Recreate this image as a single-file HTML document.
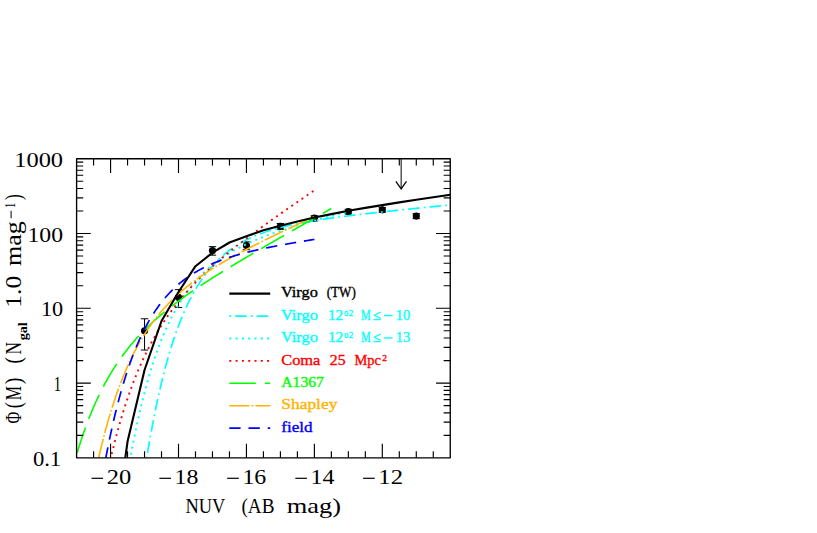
<!DOCTYPE html>
<html><head><meta charset="utf-8"><title>NUV luminosity function</title>
<style>
html,body{margin:0;padding:0;background:#fff;}
body{width:817px;height:533px;overflow:hidden;font-family:"Liberation Serif",serif;}
svg{display:block;}
text{font-family:"Liberation Serif",serif;}
</style></head><body>
<svg width="817" height="533" viewBox="0 0 817 533">
<rect x="0" y="0" width="817" height="533" fill="#fff"/>
<defs><clipPath id="fr"><rect x="76.60" y="158.70" width="373.65" height="299.15"/></clipPath></defs>
<g stroke="#000" stroke-width="1" fill="#000">
<path d="M144.54,318.78V350.04M140.84,318.78H148.24M140.84,350.04H148.24" fill="none"/>
<circle cx="144.54" cy="330.79" r="3.6" stroke="none"/>
<path d="M178.50,289.65V307.45M174.80,289.65H182.20M174.80,307.45H182.20" fill="none"/>
<circle cx="178.50" cy="297.35" r="3.6" stroke="none"/>
<path d="M212.47,246.65V255.16M208.77,246.65H216.17M208.77,255.16H216.17" fill="none"/>
<circle cx="212.47" cy="250.62" r="3.6" stroke="none"/>
<path d="M246.44,241.85V249.71M242.74,241.85H250.14M242.74,249.71H250.14" fill="none"/>
<circle cx="246.44" cy="245.54" r="3.6" stroke="none"/>
<path d="M280.41,223.46V229.28M276.71,223.46H284.11M276.71,229.28H284.11" fill="none"/>
<circle cx="280.41" cy="226.24" r="3.6" stroke="none"/>
<path d="M314.38,215.75V220.90M310.68,215.75H318.08M310.68,220.90H318.08" fill="none"/>
<circle cx="314.38" cy="218.22" r="3.6" stroke="none"/>
<path d="M348.35,209.29V213.93M344.65,209.29H352.05M344.65,213.93H352.05" fill="none"/>
<circle cx="348.35" cy="211.53" r="3.6" stroke="none"/>
<path d="M382.31,207.67V212.20M378.61,207.67H386.01M378.61,212.20H386.01" fill="none"/>
<circle cx="382.31" cy="209.86" r="3.6" stroke="none"/>
<path d="M416.28,213.67V218.65M412.58,213.67H419.98M412.58,218.65H419.98" fill="none"/>
<circle cx="416.28" cy="216.06" r="3.6" stroke="none"/>
</g>
<g clip-path="url(#fr)" fill="none" stroke-linejoin="round">
<path d="M76.60,502.72 L77.28,502.72 L77.96,502.72 L78.64,502.72 L79.32,502.72 L80.00,502.72 L80.68,502.72 L81.36,502.72 L82.03,502.72 L82.71,502.72 L83.39,502.72 L84.07,502.72 L84.75,502.72 L85.43,502.72 L86.11,502.72 L86.79,502.72 L87.47,502.72 L88.15,502.72 L88.83,502.72 L89.51,502.72 L90.19,502.72 L90.87,502.72 L91.55,502.72 L92.23,502.72 L92.90,502.72 L93.58,502.72 L94.26,502.72 L94.94,502.72 L95.62,502.72 L96.30,502.72 L96.98,502.72 L97.66,502.72 L98.34,502.72 L99.02,502.72 L99.70,502.72 L100.38,502.72 L101.06,502.72 L101.74,502.72 L102.42,502.72 L103.10,502.72 L103.77,502.72 L104.45,502.72 L105.13,502.72 L105.81,502.72 L106.49,502.72 L107.17,502.72 L107.85,502.72 L108.53,502.72 L109.21,502.72 L109.89,502.72 L110.57,502.72 L111.25,502.72 L111.93,502.72 L112.61,502.72 L113.29,502.72 L113.96,502.72 L114.64,502.72 L115.32,502.72 L116.00,502.72 L116.68,502.72 L117.36,502.72 L118.04,502.72 L118.72,502.72 L119.40,502.72 L120.08,502.72 L120.76,502.72 L121.44,502.72 L122.12,502.72 L122.80,502.72 L123.48,502.72 L124.16,502.72 L124.83,502.72 L125.51,502.72 L126.19,502.72 L126.87,502.72 L127.55,502.72 L128.23,502.72 L128.91,502.72 L129.59,502.72 L130.27,502.72 L130.95,502.72 L131.63,502.72 L132.31,502.72 L132.99,502.72 L133.67,502.72 L134.35,502.72 L135.03,502.72 L135.70,502.72 L136.38,502.72 L137.06,502.72 L137.74,502.72 L138.42,502.72 L139.10,502.72 L139.78,502.72 L140.46,499.66 L141.14,494.77 L141.82,489.97 L142.50,485.25 L143.18,480.62 L143.86,476.07 L144.54,471.61 L145.22,467.22 L145.90,462.91 L146.57,458.68 L147.25,454.53 L147.93,450.45 L148.61,446.45 L149.29,442.51 L149.97,438.65 L150.65,434.86 L151.33,431.13 L152.01,427.47 L152.69,423.88 L153.37,420.35 L154.05,416.88 L154.73,413.48 L155.41,410.14 L156.09,406.85 L156.76,403.63 L157.44,400.46 L158.12,397.35 L158.80,394.30 L159.48,391.30 L160.16,388.35 L160.84,385.46 L161.52,382.62 L162.20,379.82 L162.88,377.08 L163.56,374.39 L164.24,371.74 L164.92,369.15 L165.60,366.59 L166.28,364.09 L166.96,361.62 L167.63,359.21 L168.31,356.83 L168.99,354.50 L169.67,352.21 L170.35,349.95 L171.03,347.74 L171.71,345.57 L172.39,343.44 L173.07,341.34 L173.75,339.28 L174.43,337.26 L175.11,335.27 L175.79,333.32 L176.47,331.40 L177.15,329.52 L177.83,327.67 L178.50,325.85 L179.18,324.06 L179.86,322.31 L180.54,320.58 L181.22,318.89 L181.90,317.23 L182.58,315.59 L183.26,313.98 L183.94,312.41 L184.62,310.86 L185.30,309.33 L185.98,307.83 L186.66,306.36 L187.34,304.92 L188.02,303.50 L188.69,302.10 L189.37,300.73 L190.05,299.38 L190.73,298.06 L191.41,296.76 L192.09,295.48 L192.77,294.22 L193.45,292.99 L194.13,291.78 L194.81,290.58 L195.49,289.41 L196.17,288.26 L196.85,287.13 L197.53,286.02 L198.21,284.92 L198.89,283.85 L199.56,282.79 L200.24,281.75 L200.92,280.73 L201.60,279.73 L202.28,278.74 L202.96,277.77 L203.64,276.82 L204.32,275.88 L205.00,274.96 L205.68,274.06 L206.36,273.17 L207.04,272.29 L207.72,271.43 L208.40,270.59 L209.08,269.76 L209.76,268.94 L210.43,268.14 L211.11,267.35 L211.79,266.57 L212.47,265.80 L213.15,265.05 L213.83,264.31 L214.51,263.59 L215.19,262.87 L215.87,262.17 L216.55,261.48 L217.23,260.80 L217.91,260.13 L218.59,259.47 L219.27,258.83 L219.95,258.19 L220.63,257.56 L221.30,256.95 L221.98,256.34 L222.66,255.75 L223.34,255.16 L224.02,254.58 L224.70,254.02 L225.38,253.46 L226.06,252.91 L226.74,252.37 L227.42,251.84 L228.10,251.31 L228.78,250.80 L229.46,250.29 L230.14,249.79 L230.82,249.30 L231.49,248.82 L232.17,248.34 L232.85,247.87 L233.53,247.41 L234.21,246.96 L234.89,246.51 L235.57,246.07 L236.25,245.64 L236.93,245.21 L237.61,244.79 L238.29,244.38 L238.97,243.97 L239.65,243.57 L240.33,243.18 L241.01,242.79 L241.69,242.41 L242.36,242.03 L243.04,241.66 L243.72,241.29 L244.40,240.93 L245.08,240.58 L245.76,240.23 L246.44,239.88 L247.12,239.54 L247.80,239.21 L248.48,238.88 L249.16,238.56 L249.84,238.24 L250.52,237.92 L251.20,237.61 L251.88,237.30 L252.56,237.00 L253.23,236.70 L253.91,236.41 L254.59,236.12 L255.27,235.83 L255.95,235.55 L256.63,235.27 L257.31,235.00 L257.99,234.73 L258.67,234.46 L259.35,234.20 L260.03,233.94 L260.71,233.69 L261.39,233.44 L262.07,233.19 L262.75,232.94 L263.42,232.70 L264.10,232.46 L264.78,232.22 L265.46,231.99 L266.14,231.76 L266.82,231.54 L267.50,231.31 L268.18,231.09 L268.86,230.87 L269.54,230.66 L270.22,230.44 L270.90,230.23 L271.58,230.03 L272.26,229.82 L272.94,229.62 L273.62,229.42 L274.29,229.22 L274.97,229.03 L275.65,228.83 L276.33,228.64 L277.01,228.46 L277.69,228.27 L278.37,228.09 L279.05,227.90 L279.73,227.73 L280.41,227.55 L281.09,227.37 L281.77,227.20 L282.45,227.03 L283.13,226.86 L283.81,226.69 L284.49,226.52 L285.16,226.36 L285.84,226.20 L286.52,226.04 L287.20,225.88 L287.88,225.72 L288.56,225.57 L289.24,225.41 L289.92,225.26 L290.60,225.11 L291.28,224.96 L291.96,224.81 L292.64,224.66 L293.32,224.52 L294.00,224.38 L294.68,224.23 L295.36,224.09 L296.03,223.95 L296.71,223.82 L297.39,223.68 L298.07,223.54 L298.75,223.41 L299.43,223.28 L300.11,223.14 L300.79,223.01 L301.47,222.88 L302.15,222.76 L302.83,222.63 L303.51,222.50 L304.19,222.38 L304.87,222.25 L305.55,222.13 L306.22,222.01 L306.90,221.89 L307.58,221.77 L308.26,221.65 L308.94,221.53 L309.62,221.41 L310.30,221.30 L310.98,221.18 L311.66,221.07 L312.34,220.96 L313.02,220.84 L313.70,220.73 L314.38,220.62 L315.06,220.51 L315.74,220.40 L316.42,220.29 L317.09,220.18 L317.77,220.08 L318.45,219.97 L319.13,219.86 L319.81,219.76 L320.49,219.66 L321.17,219.55 L321.85,219.45 L322.53,219.35 L323.21,219.25 L323.89,219.14 L324.57,219.04 L325.25,218.94 L325.93,218.84 L326.61,218.75 L327.29,218.65 L327.96,218.55 L328.64,218.45 L329.32,218.36 L330.00,218.26 L330.68,218.17 L331.36,218.07 L332.04,217.98 L332.72,217.88 L333.40,217.79 L334.08,217.70 L334.76,217.61 L335.44,217.51 L336.12,217.42 L336.80,217.33 L337.48,217.24 L338.15,217.15 L338.83,217.06 L339.51,216.97 L340.19,216.88 L340.87,216.79 L341.55,216.71 L342.23,216.62 L342.91,216.53 L343.59,216.44 L344.27,216.36 L344.95,216.27 L345.63,216.19 L346.31,216.10 L346.99,216.02 L347.67,215.93 L348.35,215.85 L349.02,215.76 L349.70,215.68 L350.38,215.59 L351.06,215.51 L351.74,215.43 L352.42,215.35 L353.10,215.26 L353.78,215.18 L354.46,215.10 L355.14,215.02 L355.82,214.94 L356.50,214.85 L357.18,214.77 L357.86,214.69 L358.54,214.61 L359.22,214.53 L359.89,214.45 L360.57,214.37 L361.25,214.29 L361.93,214.22 L362.61,214.14 L363.29,214.06 L363.97,213.98 L364.65,213.90 L365.33,213.82 L366.01,213.75 L366.69,213.67 L367.37,213.59 L368.05,213.51 L368.73,213.44 L369.41,213.36 L370.09,213.28 L370.76,213.21 L371.44,213.13 L372.12,213.05 L372.80,212.98 L373.48,212.90 L374.16,212.83 L374.84,212.75 L375.52,212.67 L376.20,212.60 L376.88,212.52 L377.56,212.45 L378.24,212.37 L378.92,212.30 L379.60,212.23 L380.28,212.15 L380.95,212.08 L381.63,212.00 L382.31,211.93 L382.99,211.85 L383.67,211.78 L384.35,211.71 L385.03,211.63 L385.71,211.56 L386.39,211.49 L387.07,211.41 L387.75,211.34 L388.43,211.27 L389.11,211.20 L389.79,211.12 L390.47,211.05 L391.15,210.98 L391.82,210.90 L392.50,210.83 L393.18,210.76 L393.86,210.69 L394.54,210.62 L395.22,210.54 L395.90,210.47 L396.58,210.40 L397.26,210.33 L397.94,210.26 L398.62,210.19 L399.30,210.11 L399.98,210.04 L400.66,209.97 L401.34,209.90 L402.02,209.83 L402.69,209.76 L403.37,209.69 L404.05,209.62 L404.73,209.55 L405.41,209.48 L406.09,209.40 L406.77,209.33 L407.45,209.26 L408.13,209.19 L408.81,209.12 L409.49,209.05 L410.17,208.98 L410.85,208.91 L411.53,208.84 L412.21,208.77 L412.88,208.70 L413.56,208.63 L414.24,208.56 L414.92,208.49 L415.60,208.42 L416.28,208.35 L416.96,208.28 L417.64,208.21 L418.32,208.14 L419.00,208.07 L419.68,208.00 L420.36,207.93 L421.04,207.86 L421.72,207.80 L422.40,207.73 L423.08,207.66 L423.75,207.59 L424.43,207.52 L425.11,207.45 L425.79,207.38 L426.47,207.31 L427.15,207.24 L427.83,207.17 L428.51,207.10 L429.19,207.03 L429.87,206.97 L430.55,206.90 L431.23,206.83 L431.91,206.76 L432.59,206.69 L433.27,206.62 L433.95,206.55 L434.62,206.48 L435.30,206.42 L435.98,206.35 L436.66,206.28 L437.34,206.21 L438.02,206.14 L438.70,206.07 L439.38,206.00 L440.06,205.94 L440.74,205.87 L441.42,205.80 L442.10,205.73 L442.78,205.66 L443.46,205.59 L444.14,205.53 L444.82,205.46 L445.49,205.39 L446.17,205.32 L446.85,205.25 L447.53,205.18 L448.21,205.12 L448.89,205.05 L449.57,204.98 L450.25,204.91" stroke="#00ffff" stroke-width="1.7" stroke-dasharray="1.8 4.0 11.7 4.0" stroke-dashoffset="21.09"/>
<path d="M76.60,502.72 L77.28,502.72 L77.96,502.72 L78.64,502.72 L79.32,502.72 L80.00,502.72 L80.68,502.72 L81.36,502.72 L82.03,502.72 L82.71,502.72 L83.39,502.72 L84.07,502.72 L84.75,502.72 L85.43,502.72 L86.11,502.72 L86.79,502.72 L87.47,502.72 L88.15,502.72 L88.83,502.72 L89.51,502.72 L90.19,502.72 L90.87,502.72 L91.55,502.72 L92.23,502.72 L92.90,502.72 L93.58,502.72 L94.26,502.72 L94.94,502.72 L95.62,502.72 L96.30,502.72 L96.98,502.72 L97.66,502.72 L98.34,502.72 L99.02,502.72 L99.70,502.72 L100.38,502.72 L101.06,502.72 L101.74,502.72 L102.42,502.72 L103.10,502.72 L103.77,502.72 L104.45,502.72 L105.13,502.72 L105.81,502.72 L106.49,502.72 L107.17,502.72 L107.85,502.72 L108.53,502.72 L109.21,502.72 L109.89,502.72 L110.57,502.72 L111.25,502.72 L111.93,502.72 L112.61,502.72 L113.29,502.72 L113.96,502.72 L114.64,502.72 L115.32,502.72 L116.00,502.72 L116.68,502.72 L117.36,502.72 L118.04,502.72 L118.72,502.72 L119.40,502.72 L120.08,502.72 L120.76,502.72 L121.44,502.72 L122.12,502.72 L122.80,502.72 L123.48,499.17 L124.16,494.74 L124.83,490.39 L125.51,486.11 L126.19,481.92 L126.87,477.79 L127.55,473.74 L128.23,469.76 L128.91,465.84 L129.59,462.00 L130.27,458.23 L130.95,454.51 L131.63,450.87 L132.31,447.29 L132.99,443.77 L133.67,440.31 L134.35,436.91 L135.03,433.57 L135.70,430.29 L136.38,427.06 L137.06,423.90 L137.74,420.78 L138.42,417.72 L139.10,414.71 L139.78,411.76 L140.46,408.86 L141.14,406.00 L141.82,403.20 L142.50,400.44 L143.18,397.73 L143.86,395.07 L144.54,392.45 L145.22,389.87 L145.90,387.35 L146.57,384.86 L147.25,382.42 L147.93,380.01 L148.61,377.65 L149.29,375.33 L149.97,373.05 L150.65,370.81 L151.33,368.60 L152.01,366.44 L152.69,364.30 L153.37,362.21 L154.05,360.15 L154.73,358.12 L155.41,356.13 L156.09,354.17 L156.76,352.25 L157.44,350.36 L158.12,348.49 L158.80,346.66 L159.48,344.86 L160.16,343.09 L160.84,341.35 L161.52,339.64 L162.20,337.95 L162.88,336.30 L163.56,334.67 L164.24,333.07 L164.92,331.49 L165.60,329.94 L166.28,328.42 L166.96,326.91 L167.63,325.44 L168.31,323.99 L168.99,322.56 L169.67,321.15 L170.35,319.77 L171.03,318.41 L171.71,317.07 L172.39,315.75 L173.07,314.46 L173.75,313.18 L174.43,311.93 L175.11,310.69 L175.79,309.48 L176.47,308.28 L177.15,307.10 L177.83,305.94 L178.50,304.80 L179.18,303.68 L179.86,302.57 L180.54,301.48 L181.22,300.41 L181.90,299.36 L182.58,298.32 L183.26,297.29 L183.94,296.29 L184.62,295.29 L185.30,294.32 L185.98,293.36 L186.66,292.41 L187.34,291.48 L188.02,290.56 L188.69,289.65 L189.37,288.76 L190.05,287.88 L190.73,287.01 L191.41,286.16 L192.09,285.32 L192.77,284.49 L193.45,283.68 L194.13,282.87 L194.81,282.08 L195.49,281.30 L196.17,280.53 L196.85,279.77 L197.53,279.03 L198.21,278.29 L198.89,277.56 L199.56,276.85 L200.24,276.14 L200.92,275.44 L201.60,274.76 L202.28,274.08 L202.96,273.41 L203.64,272.75 L204.32,272.10 L205.00,271.46 L205.68,270.83 L206.36,270.21 L207.04,269.59 L207.72,268.99 L208.40,268.39 L209.08,267.80 L209.76,267.21 L210.43,266.64 L211.11,266.07 L211.79,265.51 L212.47,264.96 L213.15,264.41 L213.83,263.87 L214.51,263.34 L215.19,262.81 L215.87,262.29 L216.55,261.78 L217.23,261.27 L217.91,260.77 L218.59,260.28 L219.27,259.79 L219.95,259.31 L220.63,258.83 L221.30,258.36 L221.98,257.90 L222.66,257.44 L223.34,256.99 L224.02,256.54 L224.70,256.09 L225.38,255.65 L226.06,255.22 L226.74,254.79 L227.42,254.37 L228.10,253.95 L228.78,253.53 L229.46,253.13 L230.14,252.72 L230.82,252.32 L231.49,251.92 L232.17,251.53 L232.85,251.14 L233.53,250.76 L234.21,250.38 L234.89,250.00 L235.57,249.63 L236.25,249.26 L236.93,248.90 L237.61,248.53 L238.29,248.18 L238.97,247.82 L239.65,247.47 L240.33,247.12 L241.01,246.78 L241.69,246.44 L242.36,246.10 L243.04,245.77 L243.72,245.44 L244.40,245.11 L245.08,244.78 L245.76,244.46 L246.44,244.14 L247.12,243.83 L247.80,243.51 L248.48,243.20 L249.16,242.89 L249.84,242.59 L250.52,242.28 L251.20,241.98 L251.88,241.69 L252.56,241.39 L253.23,241.10 L253.91,240.81 L254.59,240.52 L255.27,240.23 L255.95,239.95 L256.63,239.66 L257.31,239.38 L257.99,239.11 L258.67,238.83 L259.35,238.56 L260.03,238.29 L260.71,238.02 L261.39,237.75 L262.07,237.48 L262.75,237.22 L263.42,236.96 L264.10,236.70 L264.78,236.44 L265.46,236.18 L266.14,235.93 L266.82,235.67 L267.50,235.42 L268.18,235.17 L268.86,234.92 L269.54,234.67 L270.22,234.43 L270.90,234.18 L271.58,233.94 L272.26,233.70 L272.94,233.46 L273.62,233.22 L274.29,232.98 L274.97,232.75 L275.65,232.51 L276.33,232.28 L277.01,232.05 L277.69,231.82 L278.37,231.59 L279.05,231.36 L279.73,231.13 L280.41,230.90 L281.09,230.68 L281.77,230.46 L282.45,230.23 L283.13,230.01 L283.81,229.79 L284.49,229.57 L285.16,229.35 L285.84,229.13 L286.52,228.92 L287.20,228.70 L287.88,228.49 L288.56,228.27 L289.24,228.06 L289.92,227.85 L290.60,227.64 L291.28,227.43 L291.96,227.22 L292.64,227.01 L293.32,226.80 L294.00,226.59 L294.68,226.39 L295.36,226.18 L296.03,225.98 L296.71,225.77 L297.39,225.57 L298.07,225.37 L298.75,225.16 L299.43,224.96 L300.11,224.76 L300.79,224.56 L301.47,224.36 L302.15,224.16 L302.83,223.97 L303.51,223.77 L304.19,223.57 L304.87,223.37 L305.55,223.18 L306.22,222.98 L306.90,222.79 L307.58,222.60 L308.26,222.40 L308.94,222.21 L309.62,222.02 L310.30,221.82 L310.98,221.63 L311.66,221.44 L312.34,221.25 L313.02,221.06 L313.70,220.87 L314.38,220.68 L315.06,220.49 L315.74,220.31 L316.42,220.12 L317.09,219.93 L317.77,219.74 L318.45,219.56 L319.13,219.37 L319.81,219.19 L320.49,219.00 L321.17,218.82 L321.85,218.63 L322.53,218.45 L323.21,218.26 L323.89,218.08 L324.57,217.90 L325.25,217.71 L325.93,217.53 L326.61,217.35 L327.29,217.17 L327.96,216.99 L328.64,216.80 L329.32,216.62 L330.00,216.44 L330.68,216.26 L331.36,216.08 L332.04,215.90 L332.72,215.72 L333.40,215.54 L334.08,215.37 L334.76,215.19 L335.44,215.01 L336.12,214.83 L336.80,214.65 L337.48,214.47 L338.15,214.30 L338.83,214.12 L339.51,213.94 L340.19,213.77 L340.87,213.59 L341.55,213.41 L342.23,213.24 L342.91,213.06 L343.59,212.89 L344.27,212.71 L344.95,212.54 L345.63,212.36 L346.31,212.19 L346.99,212.01 L347.67,211.84 L348.35,211.66" stroke="#00ffff" stroke-width="1.9" stroke-dasharray="2.0 4.2" stroke-dashoffset="4.34"/>
<path d="M76.60,502.72 L77.28,502.72 L77.96,502.72 L78.64,502.72 L79.32,502.72 L80.00,502.72 L80.68,502.72 L81.36,502.72 L82.03,502.72 L82.71,502.72 L83.39,502.72 L84.07,502.72 L84.75,502.72 L85.43,502.72 L86.11,502.72 L86.79,502.72 L87.47,502.72 L88.15,502.72 L88.83,502.72 L89.51,502.72 L90.19,502.72 L90.87,502.72 L91.55,502.72 L92.23,502.72 L92.90,502.72 L93.58,502.72 L94.26,502.72 L94.94,502.72 L95.62,502.72 L96.30,502.72 L96.98,502.72 L97.66,502.72 L98.34,502.72 L99.02,502.72 L99.70,502.72 L100.38,502.72 L101.06,502.72 L101.74,500.81 L102.42,497.28 L103.10,493.80 L103.77,490.37 L104.45,487.00 L105.13,483.68 L105.81,480.42 L106.49,477.20 L107.17,474.04 L107.85,470.92 L108.53,467.86 L109.21,464.84 L109.89,461.87 L110.57,458.94 L111.25,456.06 L111.93,453.23 L112.61,450.44 L113.29,447.69 L113.96,444.98 L114.64,442.31 L115.32,439.68 L116.00,437.10 L116.68,434.55 L117.36,432.04 L118.04,429.57 L118.72,427.13 L119.40,424.73 L120.08,422.37 L120.76,420.04 L121.44,417.75 L122.12,415.49 L122.80,413.26 L123.48,411.06 L124.16,408.90 L124.83,406.77 L125.51,404.66 L126.19,402.59 L126.87,400.55 L127.55,398.54 L128.23,396.55 L128.91,394.59 L129.59,392.66 L130.27,390.76 L130.95,388.89 L131.63,387.04 L132.31,385.21 L132.99,383.41 L133.67,381.64 L134.35,379.88 L135.03,378.16 L135.70,376.45 L136.38,374.77 L137.06,373.11 L137.74,371.48 L138.42,369.86 L139.10,368.27 L139.78,366.69 L140.46,365.14 L141.14,363.61 L141.82,362.09 L142.50,360.60 L143.18,359.12 L143.86,357.67 L144.54,356.23 L145.22,354.81 L145.90,353.41 L146.57,352.02 L147.25,350.66 L147.93,349.30 L148.61,347.97 L149.29,346.65 L149.97,345.35 L150.65,344.06 L151.33,342.79 L152.01,341.53 L152.69,340.29 L153.37,339.06 L154.05,337.84 L154.73,336.64 L155.41,335.46 L156.09,334.28 L156.76,333.12 L157.44,331.98 L158.12,330.84 L158.80,329.72 L159.48,328.61 L160.16,327.51 L160.84,326.42 L161.52,325.35 L162.20,324.29 L162.88,323.23 L163.56,322.19 L164.24,321.16 L164.92,320.14 L165.60,319.13 L166.28,318.13 L166.96,317.14 L167.63,316.16 L168.31,315.19 L168.99,314.23 L169.67,313.28 L170.35,312.33 L171.03,311.40 L171.71,310.48 L172.39,309.56 L173.07,308.65 L173.75,307.75 L174.43,306.86 L175.11,305.98 L175.79,305.10 L176.47,304.23 L177.15,303.37 L177.83,302.52 L178.50,301.67 L179.18,300.83 L179.86,300.00 L180.54,299.18 L181.22,298.36 L181.90,297.55 L182.58,296.74 L183.26,295.95 L183.94,295.15 L184.62,294.37 L185.30,293.59 L185.98,292.81 L186.66,292.05 L187.34,291.28 L188.02,290.53 L188.69,289.78 L189.37,289.03 L190.05,288.29 L190.73,287.55 L191.41,286.82 L192.09,286.10 L192.77,285.38 L193.45,284.66 L194.13,283.95 L194.81,283.25 L195.49,282.55 L196.17,281.85 L196.85,281.16 L197.53,280.47 L198.21,279.79 L198.89,279.11 L199.56,278.43 L200.24,277.76 L200.92,277.09 L201.60,276.43 L202.28,275.77 L202.96,275.11 L203.64,274.46 L204.32,273.81 L205.00,273.17 L205.68,272.53 L206.36,271.89 L207.04,271.25 L207.72,270.62 L208.40,269.99 L209.08,269.37 L209.76,268.75 L210.43,268.13 L211.11,267.51 L211.79,266.90 L212.47,266.29 L213.15,265.68 L213.83,265.08 L214.51,264.47 L215.19,263.88 L215.87,263.28 L216.55,262.69 L217.23,262.09 L217.91,261.51 L218.59,260.92 L219.27,260.34 L219.95,259.75 L220.63,259.18 L221.30,258.60 L221.98,258.02 L222.66,257.45 L223.34,256.88 L224.02,256.31 L224.70,255.75 L225.38,255.18 L226.06,254.62 L226.74,254.06 L227.42,253.50 L228.10,252.95 L228.78,252.39 L229.46,251.84 L230.14,251.29 L230.82,250.74 L231.49,250.19 L232.17,249.65 L232.85,249.10 L233.53,248.56 L234.21,248.02 L234.89,247.48 L235.57,246.94 L236.25,246.41 L236.93,245.87 L237.61,245.34 L238.29,244.81 L238.97,244.28 L239.65,243.75 L240.33,243.22 L241.01,242.70 L241.69,242.17 L242.36,241.65 L243.04,241.13 L243.72,240.61 L244.40,240.09 L245.08,239.57 L245.76,239.05 L246.44,238.53 L247.12,238.02 L247.80,237.51 L248.48,236.99 L249.16,236.48 L249.84,235.97 L250.52,235.46 L251.20,234.95 L251.88,234.44 L252.56,233.94 L253.23,233.43 L253.91,232.93 L254.59,232.42 L255.27,231.92 L255.95,231.42 L256.63,230.92 L257.31,230.42 L257.99,229.92 L258.67,229.42 L259.35,228.92 L260.03,228.42 L260.71,227.93 L261.39,227.43 L262.07,226.94 L262.75,226.44 L263.42,225.95 L264.10,225.46 L264.78,224.96 L265.46,224.47 L266.14,223.98 L266.82,223.49 L267.50,223.00 L268.18,222.52 L268.86,222.03 L269.54,221.54 L270.22,221.05 L270.90,220.57 L271.58,220.08 L272.26,219.60 L272.94,219.11 L273.62,218.63 L274.29,218.15 L274.97,217.66 L275.65,217.18 L276.33,216.70 L277.01,216.22 L277.69,215.74 L278.37,215.26 L279.05,214.78 L279.73,214.30 L280.41,213.82 L281.09,213.34 L281.77,212.86 L282.45,212.39 L283.13,211.91 L283.81,211.43 L284.49,210.96 L285.16,210.48 L285.84,210.00 L286.52,209.53 L287.20,209.05 L287.88,208.58 L288.56,208.11 L289.24,207.63 L289.92,207.16 L290.60,206.69 L291.28,206.21 L291.96,205.74 L292.64,205.27 L293.32,204.80 L294.00,204.33 L294.68,203.86 L295.36,203.39 L296.03,202.92 L296.71,202.45 L297.39,201.98 L298.07,201.51 L298.75,201.04 L299.43,200.57 L300.11,200.10 L300.79,199.63 L301.47,199.16 L302.15,198.70 L302.83,198.23 L303.51,197.76 L304.19,197.29 L304.87,196.83 L305.55,196.36 L306.22,195.89 L306.90,195.43 L307.58,194.96 L308.26,194.50 L308.94,194.03 L309.62,193.56 L310.30,193.10 L310.98,192.63 L311.66,192.17 L312.34,191.71 L313.02,191.24 L313.70,190.78 L314.38,190.31" stroke="#ff0000" stroke-width="1.9" stroke-dasharray="2.0 4.2" stroke-dashoffset="0.14"/>
<path d="M76.60,454.60 L77.28,452.35 L77.96,450.12 L78.64,447.94 L79.32,445.78 L80.00,443.66 L80.68,441.57 L81.36,439.51 L82.03,437.48 L82.71,435.48 L83.39,433.51 L84.07,431.57 L84.75,429.66 L85.43,427.77 L86.11,425.91 L86.79,424.08 L87.47,422.28 L88.15,420.50 L88.83,418.75 L89.51,417.02 L90.19,415.32 L90.87,413.64 L91.55,411.99 L92.23,410.35 L92.90,408.75 L93.58,407.16 L94.26,405.59 L94.94,404.05 L95.62,402.53 L96.30,401.03 L96.98,399.55 L97.66,398.09 L98.34,396.65 L99.02,395.22 L99.70,393.82 L100.38,392.44 L101.06,391.07 L101.74,389.72 L102.42,388.39 L103.10,387.08 L103.77,385.78 L104.45,384.50 L105.13,383.24 L105.81,382.00 L106.49,380.76 L107.17,379.55 L107.85,378.35 L108.53,377.16 L109.21,375.99 L109.89,374.83 L110.57,373.69 L111.25,372.56 L111.93,371.45 L112.61,370.35 L113.29,369.26 L113.96,368.18 L114.64,367.12 L115.32,366.07 L116.00,365.03 L116.68,364.01 L117.36,362.99 L118.04,361.99 L118.72,361.00 L119.40,360.01 L120.08,359.05 L120.76,358.09 L121.44,357.14 L122.12,356.20 L122.80,355.27 L123.48,354.35 L124.16,353.44 L124.83,352.55 L125.51,351.66 L126.19,350.78 L126.87,349.91 L127.55,349.04 L128.23,348.19 L128.91,347.35 L129.59,346.51 L130.27,345.68 L130.95,344.86 L131.63,344.05 L132.31,343.24 L132.99,342.45 L133.67,341.66 L134.35,340.88 L135.03,340.10 L135.70,339.34 L136.38,338.58 L137.06,337.82 L137.74,337.08 L138.42,336.34 L139.10,335.60 L139.78,334.88 L140.46,334.16 L141.14,333.44 L141.82,332.73 L142.50,332.03 L143.18,331.33 L143.86,330.64 L144.54,329.96 L145.22,329.28 L145.90,328.60 L146.57,327.94 L147.25,327.27 L147.93,326.61 L148.61,325.96 L149.29,325.31 L149.97,324.67 L150.65,324.03 L151.33,323.39 L152.01,322.76 L152.69,322.14 L153.37,321.52 L154.05,320.90 L154.73,320.29 L155.41,319.68 L156.09,319.08 L156.76,318.48 L157.44,317.88 L158.12,317.29 L158.80,316.70 L159.48,316.12 L160.16,315.53 L160.84,314.96 L161.52,314.38 L162.20,313.81 L162.88,313.25 L163.56,312.68 L164.24,312.12 L164.92,311.57 L165.60,311.01 L166.28,310.46 L166.96,309.91 L167.63,309.37 L168.31,308.83 L168.99,308.29 L169.67,307.75 L170.35,307.22 L171.03,306.69 L171.71,306.16 L172.39,305.64 L173.07,305.12 L173.75,304.60 L174.43,304.08 L175.11,303.56 L175.79,303.05 L176.47,302.54 L177.15,302.03 L177.83,301.53 L178.50,301.02 L179.18,300.52 L179.86,300.02 L180.54,299.53 L181.22,299.03 L181.90,298.54 L182.58,298.05 L183.26,297.56 L183.94,297.07 L184.62,296.59 L185.30,296.11 L185.98,295.62 L186.66,295.14 L187.34,294.67 L188.02,294.19 L188.69,293.72 L189.37,293.24 L190.05,292.77 L190.73,292.30 L191.41,291.84 L192.09,291.37 L192.77,290.91 L193.45,290.44 L194.13,289.98 L194.81,289.52 L195.49,289.06 L196.17,288.60 L196.85,288.15 L197.53,287.69 L198.21,287.24 L198.89,286.79 L199.56,286.34 L200.24,285.89 L200.92,285.44 L201.60,284.99 L202.28,284.55 L202.96,284.10 L203.64,283.66 L204.32,283.21 L205.00,282.77 L205.68,282.33 L206.36,281.89 L207.04,281.45 L207.72,281.02 L208.40,280.58 L209.08,280.14 L209.76,279.71 L210.43,279.28 L211.11,278.84 L211.79,278.41 L212.47,277.98 L213.15,277.55 L213.83,277.12 L214.51,276.69 L215.19,276.27 L215.87,275.84 L216.55,275.41 L217.23,274.99 L217.91,274.56 L218.59,274.14 L219.27,273.72 L219.95,273.30 L220.63,272.87 L221.30,272.45 L221.98,272.03 L222.66,271.62 L223.34,271.20 L224.02,270.78 L224.70,270.36 L225.38,269.94 L226.06,269.53 L226.74,269.11 L227.42,268.70 L228.10,268.28 L228.78,267.87 L229.46,267.46 L230.14,267.04 L230.82,266.63 L231.49,266.22 L232.17,265.81 L232.85,265.40 L233.53,264.99 L234.21,264.58 L234.89,264.17 L235.57,263.76 L236.25,263.35 L236.93,262.95 L237.61,262.54 L238.29,262.13 L238.97,261.73 L239.65,261.32 L240.33,260.92 L241.01,260.51 L241.69,260.11 L242.36,259.70 L243.04,259.30 L243.72,258.89 L244.40,258.49 L245.08,258.09 L245.76,257.69 L246.44,257.28 L247.12,256.88 L247.80,256.48 L248.48,256.08 L249.16,255.68 L249.84,255.28 L250.52,254.88 L251.20,254.48 L251.88,254.08 L252.56,253.68 L253.23,253.28 L253.91,252.88 L254.59,252.49 L255.27,252.09 L255.95,251.69 L256.63,251.29 L257.31,250.90 L257.99,250.50 L258.67,250.10 L259.35,249.71 L260.03,249.31 L260.71,248.91 L261.39,248.52 L262.07,248.12 L262.75,247.73 L263.42,247.33 L264.10,246.94 L264.78,246.54 L265.46,246.15 L266.14,245.75 L266.82,245.36 L267.50,244.97 L268.18,244.57 L268.86,244.18 L269.54,243.79 L270.22,243.39 L270.90,243.00 L271.58,242.61 L272.26,242.22 L272.94,241.82 L273.62,241.43 L274.29,241.04 L274.97,240.65 L275.65,240.26 L276.33,239.87 L277.01,239.47 L277.69,239.08 L278.37,238.69 L279.05,238.30 L279.73,237.91 L280.41,237.52 L281.09,237.13 L281.77,236.74 L282.45,236.35 L283.13,235.96 L283.81,235.57 L284.49,235.18 L285.16,234.79 L285.84,234.40 L286.52,234.01 L287.20,233.62 L287.88,233.23 L288.56,232.84 L289.24,232.46 L289.92,232.07 L290.60,231.68 L291.28,231.29 L291.96,230.90 L292.64,230.51 L293.32,230.12 L294.00,229.74 L294.68,229.35 L295.36,228.96 L296.03,228.57 L296.71,228.18 L297.39,227.80 L298.07,227.41 L298.75,227.02 L299.43,226.63 L300.11,226.25 L300.79,225.86 L301.47,225.47 L302.15,225.09 L302.83,224.70 L303.51,224.31 L304.19,223.92 L304.87,223.54 L305.55,223.15 L306.22,222.76 L306.90,222.38 L307.58,221.99 L308.26,221.60 L308.94,221.22 L309.62,220.83 L310.30,220.45 L310.98,220.06 L311.66,219.67 L312.34,219.29 L313.02,218.90 L313.70,218.52 L314.38,218.13 L315.06,217.74 L315.74,217.36 L316.42,216.97 L317.09,216.59 L317.77,216.20 L318.45,215.81 L319.13,215.43 L319.81,215.04 L320.49,214.66 L321.17,214.27 L321.85,213.89 L322.53,213.50 L323.21,213.12 L323.89,212.73 L324.57,212.35 L325.25,211.96 L325.93,211.58 L326.61,211.19 L327.29,210.81 L327.96,210.42 L328.64,210.04 L329.32,209.65 L330.00,209.27 L330.68,208.88 L331.36,208.50" stroke="#00ff00" stroke-width="1.6" stroke-dasharray="26.5 9" stroke-dashoffset="33.43"/>
<path d="M76.60,502.72 L77.28,502.72 L77.96,502.72 L78.64,502.72 L79.32,502.72 L80.00,502.72 L80.68,502.72 L81.36,502.72 L82.03,502.72 L82.71,502.72 L83.39,502.72 L84.07,502.72 L84.75,502.72 L85.43,502.72 L86.11,502.72 L86.79,502.72 L87.47,502.72 L88.15,502.72 L88.83,502.72 L89.51,502.59 L90.19,498.90 L90.87,495.28 L91.55,491.72 L92.23,488.21 L92.90,484.77 L93.58,481.38 L94.26,478.05 L94.94,474.77 L95.62,471.55 L96.30,468.38 L96.98,465.26 L97.66,462.19 L98.34,459.18 L99.02,456.21 L99.70,453.30 L100.38,450.43 L101.06,447.60 L101.74,444.83 L102.42,442.09 L103.10,439.41 L103.77,436.76 L104.45,434.16 L105.13,431.60 L105.81,429.08 L106.49,426.60 L107.17,424.17 L107.85,421.77 L108.53,419.41 L109.21,417.08 L109.89,414.79 L110.57,412.54 L111.25,410.33 L111.93,408.15 L112.61,406.00 L113.29,403.89 L113.96,401.81 L114.64,399.76 L115.32,397.75 L116.00,395.76 L116.68,393.81 L117.36,391.89 L118.04,389.99 L118.72,388.13 L119.40,386.29 L120.08,384.48 L120.76,382.70 L121.44,380.95 L122.12,379.22 L122.80,377.52 L123.48,375.84 L124.16,374.19 L124.83,372.56 L125.51,370.96 L126.19,369.38 L126.87,367.82 L127.55,366.29 L128.23,364.78 L128.91,363.29 L129.59,361.83 L130.27,360.38 L130.95,358.95 L131.63,357.55 L132.31,356.17 L132.99,354.80 L133.67,353.46 L134.35,352.13 L135.03,350.82 L135.70,349.53 L136.38,348.26 L137.06,347.01 L137.74,345.77 L138.42,344.55 L139.10,343.35 L139.78,342.16 L140.46,340.99 L141.14,339.83 L141.82,338.70 L142.50,337.57 L143.18,336.46 L143.86,335.37 L144.54,334.29 L145.22,333.22 L145.90,332.17 L146.57,331.13 L147.25,330.11 L147.93,329.09 L148.61,328.10 L149.29,327.11 L149.97,326.13 L150.65,325.17 L151.33,324.22 L152.01,323.29 L152.69,322.36 L153.37,321.44 L154.05,320.54 L154.73,319.65 L155.41,318.76 L156.09,317.89 L156.76,317.03 L157.44,316.18 L158.12,315.34 L158.80,314.51 L159.48,313.68 L160.16,312.87 L160.84,312.07 L161.52,311.27 L162.20,310.49 L162.88,309.71 L163.56,308.94 L164.24,308.18 L164.92,307.43 L165.60,306.69 L166.28,305.95 L166.96,305.23 L167.63,304.51 L168.31,303.80 L168.99,303.09 L169.67,302.39 L170.35,301.70 L171.03,301.02 L171.71,300.34 L172.39,299.67 L173.07,299.01 L173.75,298.35 L174.43,297.70 L175.11,297.06 L175.79,296.42 L176.47,295.79 L177.15,295.17 L177.83,294.55 L178.50,293.93 L179.18,293.32 L179.86,292.72 L180.54,292.12 L181.22,291.53 L181.90,290.94 L182.58,290.36 L183.26,289.79 L183.94,289.21 L184.62,288.65 L185.30,288.09 L185.98,287.53 L186.66,286.98 L187.34,286.43 L188.02,285.88 L188.69,285.34 L189.37,284.81 L190.05,284.28 L190.73,283.75 L191.41,283.23 L192.09,282.71 L192.77,282.19 L193.45,281.68 L194.13,281.17 L194.81,280.67 L195.49,280.17 L196.17,279.67 L196.85,279.18 L197.53,278.69 L198.21,278.20 L198.89,277.72 L199.56,277.24 L200.24,276.76 L200.92,276.29 L201.60,275.82 L202.28,275.35 L202.96,274.89 L203.64,274.43 L204.32,273.97 L205.00,273.51 L205.68,273.06 L206.36,272.61 L207.04,272.16 L207.72,271.71 L208.40,271.27 L209.08,270.83 L209.76,270.39 L210.43,269.96 L211.11,269.52 L211.79,269.09 L212.47,268.67 L213.15,268.24 L213.83,267.82 L214.51,267.39 L215.19,266.97 L215.87,266.56 L216.55,266.14 L217.23,265.73 L217.91,265.32 L218.59,264.91 L219.27,264.50 L219.95,264.09 L220.63,263.69 L221.30,263.29 L221.98,262.88 L222.66,262.49 L223.34,262.09 L224.02,261.69 L224.70,261.30 L225.38,260.91 L226.06,260.52 L226.74,260.13 L227.42,259.74 L228.10,259.35 L228.78,258.97 L229.46,258.59 L230.14,258.20 L230.82,257.82 L231.49,257.45 L232.17,257.07 L232.85,256.69 L233.53,256.32 L234.21,255.94 L234.89,255.57 L235.57,255.20 L236.25,254.83 L236.93,254.46 L237.61,254.09 L238.29,253.72 L238.97,253.36 L239.65,252.99 L240.33,252.63 L241.01,252.27 L241.69,251.91 L242.36,251.55 L243.04,251.19 L243.72,250.83 L244.40,250.47 L245.08,250.12 L245.76,249.76 L246.44,249.41 L247.12,249.05 L247.80,248.70 L248.48,248.35 L249.16,248.00 L249.84,247.65 L250.52,247.30 L251.20,246.95 L251.88,246.60 L252.56,246.25 L253.23,245.91 L253.91,245.56 L254.59,245.22 L255.27,244.87 L255.95,244.53 L256.63,244.19 L257.31,243.84 L257.99,243.50 L258.67,243.16 L259.35,242.82 L260.03,242.48 L260.71,242.14 L261.39,241.80 L262.07,241.47 L262.75,241.13 L263.42,240.79 L264.10,240.46 L264.78,240.12 L265.46,239.79 L266.14,239.45 L266.82,239.12 L267.50,238.79 L268.18,238.45 L268.86,238.12 L269.54,237.79 L270.22,237.46 L270.90,237.13 L271.58,236.80 L272.26,236.47 L272.94,236.14 L273.62,235.81 L274.29,235.48 L274.97,235.15 L275.65,234.82 L276.33,234.49 L277.01,234.17 L277.69,233.84 L278.37,233.51 L279.05,233.19 L279.73,232.86 L280.41,232.54 L281.09,232.21 L281.77,231.89 L282.45,231.56 L283.13,231.24 L283.81,230.92 L284.49,230.59 L285.16,230.27 L285.84,229.95 L286.52,229.63 L287.20,229.30 L287.88,228.98 L288.56,228.66 L289.24,228.34 L289.92,228.02 L290.60,227.70 L291.28,227.38 L291.96,227.06 L292.64,226.74 L293.32,226.42 L294.00,226.10 L294.68,225.78 L295.36,225.46 L296.03,225.14 L296.71,224.83 L297.39,224.51 L298.07,224.19 L298.75,223.87 L299.43,223.56 L300.11,223.24 L300.79,222.92 L301.47,222.60 L302.15,222.29 L302.83,221.97 L303.51,221.66 L304.19,221.34 L304.87,221.02 L305.55,220.71 L306.22,220.39 L306.90,220.08 L307.58,219.76 L308.26,219.45 L308.94,219.13 L309.62,218.82 L310.30,218.50 L310.98,218.19 L311.66,217.88 L312.34,217.56 L313.02,217.25 L313.70,216.94 L314.38,216.62" stroke="#ffb400" stroke-width="1.6" stroke-dasharray="20.1 2.2 1.7 2.19" stroke-dashoffset="20.56"/>
<path d="M76.60,502.72 L77.28,502.72 L77.96,502.72 L78.64,502.72 L79.32,502.72 L80.00,502.72 L80.68,502.72 L81.36,502.72 L82.03,502.72 L82.71,502.72 L83.39,502.72 L84.07,502.72 L84.75,502.72 L85.43,502.72 L86.11,502.72 L86.79,502.72 L87.47,502.72 L88.15,502.72 L88.83,502.72 L89.51,502.72 L90.19,502.72 L90.87,502.72 L91.55,502.72 L92.23,502.72 L92.90,502.72 L93.58,502.72 L94.26,502.72 L94.94,502.72 L95.62,502.72 L96.30,502.72 L96.98,502.72 L97.66,502.72 L98.34,501.69 L99.02,497.35 L99.70,493.09 L100.38,488.91 L101.06,484.79 L101.74,480.76 L102.42,476.79 L103.10,472.90 L103.77,469.07 L104.45,465.31 L105.13,461.62 L105.81,458.00 L106.49,454.44 L107.17,450.94 L107.85,447.50 L108.53,444.13 L109.21,440.81 L109.89,437.56 L110.57,434.36 L111.25,431.22 L111.93,428.13 L112.61,425.10 L113.29,422.12 L113.96,419.20 L114.64,416.32 L115.32,413.50 L116.00,410.73 L116.68,408.00 L117.36,405.33 L118.04,402.70 L118.72,400.11 L119.40,397.58 L120.08,395.08 L120.76,392.63 L121.44,390.23 L122.12,387.86 L122.80,385.54 L123.48,383.26 L124.16,381.02 L124.83,378.81 L125.51,376.65 L126.19,374.52 L126.87,372.43 L127.55,370.38 L128.23,368.36 L128.91,366.38 L129.59,364.43 L130.27,362.52 L130.95,360.63 L131.63,358.79 L132.31,356.97 L132.99,355.18 L133.67,353.43 L134.35,351.71 L135.03,350.01 L135.70,348.35 L136.38,346.71 L137.06,345.10 L137.74,343.52 L138.42,341.97 L139.10,340.44 L139.78,338.94 L140.46,337.46 L141.14,336.01 L141.82,334.59 L142.50,333.19 L143.18,331.81 L143.86,330.46 L144.54,329.13 L145.22,327.82 L145.90,326.53 L146.57,325.27 L147.25,324.02 L147.93,322.80 L148.61,321.60 L149.29,320.42 L149.97,319.26 L150.65,318.11 L151.33,316.99 L152.01,315.89 L152.69,314.80 L153.37,313.73 L154.05,312.68 L154.73,311.65 L155.41,310.63 L156.09,309.64 L156.76,308.65 L157.44,307.69 L158.12,306.74 L158.80,305.80 L159.48,304.88 L160.16,303.98 L160.84,303.09 L161.52,302.21 L162.20,301.35 L162.88,300.51 L163.56,299.67 L164.24,298.85 L164.92,298.05 L165.60,297.25 L166.28,296.47 L166.96,295.70 L167.63,294.95 L168.31,294.20 L168.99,293.47 L169.67,292.75 L170.35,292.04 L171.03,291.35 L171.71,290.66 L172.39,289.98 L173.07,289.32 L173.75,288.66 L174.43,288.02 L175.11,287.38 L175.79,286.76 L176.47,286.14 L177.15,285.54 L177.83,284.94 L178.50,284.35 L179.18,283.77 L179.86,283.20 L180.54,282.64 L181.22,282.09 L181.90,281.55 L182.58,281.01 L183.26,280.48 L183.94,279.96 L184.62,279.45 L185.30,278.94 L185.98,278.45 L186.66,277.96 L187.34,277.47 L188.02,277.00 L188.69,276.53 L189.37,276.07 L190.05,275.61 L190.73,275.16 L191.41,274.72 L192.09,274.29 L192.77,273.86 L193.45,273.43 L194.13,273.01 L194.81,272.60 L195.49,272.20 L196.17,271.80 L196.85,271.40 L197.53,271.01 L198.21,270.63 L198.89,270.25 L199.56,269.88 L200.24,269.51 L200.92,269.14 L201.60,268.79 L202.28,268.43 L202.96,268.08 L203.64,267.74 L204.32,267.40 L205.00,267.06 L205.68,266.73 L206.36,266.41 L207.04,266.08 L207.72,265.76 L208.40,265.45 L209.08,265.14 L209.76,264.83 L210.43,264.53 L211.11,264.23 L211.79,263.94 L212.47,263.65 L213.15,263.36 L213.83,263.07 L214.51,262.79 L215.19,262.51 L215.87,262.24 L216.55,261.97 L217.23,261.70 L217.91,261.44 L218.59,261.18 L219.27,260.92 L219.95,260.66 L220.63,260.41 L221.30,260.16 L221.98,259.91 L222.66,259.67 L223.34,259.43 L224.02,259.19 L224.70,258.95 L225.38,258.72 L226.06,258.49 L226.74,258.26 L227.42,258.03 L228.10,257.81 L228.78,257.59 L229.46,257.37 L230.14,257.15 L230.82,256.93 L231.49,256.72 L232.17,256.51 L232.85,256.30 L233.53,256.10 L234.21,255.89 L234.89,255.69 L235.57,255.49 L236.25,255.29 L236.93,255.09 L237.61,254.90 L238.29,254.71 L238.97,254.52 L239.65,254.33 L240.33,254.14 L241.01,253.95 L241.69,253.77 L242.36,253.59 L243.04,253.40 L243.72,253.22 L244.40,253.05 L245.08,252.87 L245.76,252.69 L246.44,252.52 L247.12,252.35 L247.80,252.18 L248.48,252.01 L249.16,251.84 L249.84,251.67 L250.52,251.51 L251.20,251.34 L251.88,251.18 L252.56,251.02 L253.23,250.86 L253.91,250.70 L254.59,250.54 L255.27,250.38 L255.95,250.23 L256.63,250.07 L257.31,249.92 L257.99,249.77 L258.67,249.62 L259.35,249.46 L260.03,249.31 L260.71,249.17 L261.39,249.02 L262.07,248.87 L262.75,248.73 L263.42,248.58 L264.10,248.44 L264.78,248.29 L265.46,248.15 L266.14,248.01 L266.82,247.87 L267.50,247.73 L268.18,247.59 L268.86,247.45 L269.54,247.32 L270.22,247.18 L270.90,247.04 L271.58,246.91 L272.26,246.77 L272.94,246.64 L273.62,246.51 L274.29,246.37 L274.97,246.24 L275.65,246.11 L276.33,245.98 L277.01,245.85 L277.69,245.72 L278.37,245.59 L279.05,245.47 L279.73,245.34 L280.41,245.21 L281.09,245.09 L281.77,244.96 L282.45,244.83 L283.13,244.71 L283.81,244.59 L284.49,244.46 L285.16,244.34 L285.84,244.22 L286.52,244.10 L287.20,243.97 L287.88,243.85 L288.56,243.73 L289.24,243.61 L289.92,243.49 L290.60,243.37 L291.28,243.25 L291.96,243.14 L292.64,243.02 L293.32,242.90 L294.00,242.78 L294.68,242.67 L295.36,242.55 L296.03,242.43 L296.71,242.32 L297.39,242.20 L298.07,242.09 L298.75,241.97 L299.43,241.86 L300.11,241.74 L300.79,241.63 L301.47,241.52 L302.15,241.41 L302.83,241.29 L303.51,241.18 L304.19,241.07 L304.87,240.96 L305.55,240.85 L306.22,240.73 L306.90,240.62 L307.58,240.51 L308.26,240.40 L308.94,240.29 L309.62,240.18 L310.30,240.07 L310.98,239.96 L311.66,239.85 L312.34,239.75 L313.02,239.64 L313.70,239.53 L314.38,239.42" stroke="#0000ff" stroke-width="1.7" stroke-dasharray="11.3 7.9" stroke-dashoffset="10.67"/>
<path d="M110.57,565.00 L127.55,441.50 L144.54,370.00 L161.52,321.00 L178.50,292.00 L195.49,266.20 L212.47,252.70 L229.46,242.50 L246.44,236.30 L263.42,230.30 L280.41,225.70 L297.39,221.40 L314.38,217.50 L331.36,214.10 L348.35,210.80 L365.33,207.90 L382.31,205.10 L399.30,202.40 L416.28,199.80 L433.27,197.20 L450.25,194.70" stroke="#000" stroke-width="2.1"/>
</g>
<path d="M401.15,158.7V188.3" fill="none" stroke="#000" stroke-width="1.0"/><path d="M395.84999999999997,181.3L401.15,188.8L406.45,181.3" fill="none" stroke="#000" stroke-width="1.25" stroke-linejoin="miter"/>
<path d="M93.58,457.85v-6.7M93.58,158.7v6.7M110.57,457.85v-14.2M110.57,158.7v14.2M127.55,457.85v-6.7M127.55,158.7v6.7M144.54,457.85v-6.7M144.54,158.7v6.7M161.52,457.85v-6.7M161.52,158.7v6.7M178.50,457.85v-14.2M178.50,158.7v14.2M195.49,457.85v-6.7M195.49,158.7v6.7M212.47,457.85v-6.7M212.47,158.7v6.7M229.46,457.85v-6.7M229.46,158.7v6.7M246.44,457.85v-14.2M246.44,158.7v14.2M263.42,457.85v-6.7M263.42,158.7v6.7M280.41,457.85v-6.7M280.41,158.7v6.7M297.39,457.85v-6.7M297.39,158.7v6.7M314.38,457.85v-14.2M314.38,158.7v14.2M331.36,457.85v-6.7M331.36,158.7v6.7M348.35,457.85v-6.7M348.35,158.7v6.7M365.33,457.85v-6.7M365.33,158.7v6.7M382.31,457.85v-14.2M382.31,158.7v14.2M399.30,457.85v-6.7M399.30,158.7v6.7M416.28,457.85v-6.7M416.28,158.7v6.7M433.27,457.85v-6.7M433.27,158.7v6.7M76.6,435.34h6.6M450.25,435.34h-6.6M76.6,422.17h6.6M450.25,422.17h-6.6M76.6,412.82h6.6M450.25,412.82h-6.6M76.6,405.58h6.6M450.25,405.58h-6.6M76.6,399.65h6.6M450.25,399.65h-6.6M76.6,394.65h6.6M450.25,394.65h-6.6M76.6,390.31h6.6M450.25,390.31h-6.6M76.6,386.48h6.6M450.25,386.48h-6.6M76.6,383.06h14.2M450.25,383.06h-14.2M76.6,360.55h6.6M450.25,360.55h-6.6M76.6,347.38h6.6M450.25,347.38h-6.6M76.6,338.04h6.6M450.25,338.04h-6.6M76.6,330.79h6.6M450.25,330.79h-6.6M76.6,324.87h6.6M450.25,324.87h-6.6M76.6,319.86h6.6M450.25,319.86h-6.6M76.6,315.52h6.6M450.25,315.52h-6.6M76.6,311.70h6.6M450.25,311.70h-6.6M76.6,308.27h14.2M450.25,308.27h-14.2M76.6,285.76h6.6M450.25,285.76h-6.6M76.6,272.59h6.6M450.25,272.59h-6.6M76.6,263.25h6.6M450.25,263.25h-6.6M76.6,256.00h6.6M450.25,256.00h-6.6M76.6,250.08h6.6M450.25,250.08h-6.6M76.6,245.07h6.6M450.25,245.07h-6.6M76.6,240.74h6.6M450.25,240.74h-6.6M76.6,236.91h6.6M450.25,236.91h-6.6M76.6,233.49h14.2M450.25,233.49h-14.2M76.6,210.97h6.6M450.25,210.97h-6.6M76.6,197.80h6.6M450.25,197.80h-6.6M76.6,188.46h6.6M450.25,188.46h-6.6M76.6,181.21h6.6M450.25,181.21h-6.6M76.6,175.29h6.6M450.25,175.29h-6.6M76.6,170.28h6.6M450.25,170.28h-6.6M76.6,165.95h6.6M450.25,165.95h-6.6M76.6,162.12h6.6M450.25,162.12h-6.6" fill="none" stroke="#000" stroke-width="1.15"/>
<rect x="76.6" y="158.7" width="373.65" height="299.15" fill="none" stroke="#000" stroke-width="1.35" stroke-linejoin="round"/>
<text transform="translate(14.20,166.75) scale(1.1533,1.0143)" font-size="21.2" fill="#000">1000</text>
<text transform="translate(27.50,241.54) scale(1.1164,1.0143)" font-size="21.2" fill="#000">100</text>
<text transform="translate(41.00,316.32) scale(1.0472,1.0143)" font-size="21.2" fill="#000">10</text>
<text transform="translate(53.80,391.11) scale(0.6981,1.0220)" font-size="21.2" fill="#000">1</text>
<text transform="translate(32.90,465.90) scale(1.0679,1.0143)" font-size="21.2" fill="#000">0.1</text>
<path d="M91.5,478.3h11.6" stroke="#000" stroke-width="1.2" fill="none"/>
<text transform="translate(106.70,484.40) scale(1.1557,1.0072)" font-size="21.2" fill="#000">20</text>
<path d="M159.4,478.3h11.6" stroke="#000" stroke-width="1.2" fill="none"/>
<text transform="translate(174.60,484.40) scale(1.1274,1.0072)" font-size="21.2" fill="#000">18</text>
<path d="M227.2,478.3h11.6" stroke="#000" stroke-width="1.2" fill="none"/>
<text transform="translate(242.40,484.40) scale(1.1274,1.0110)" font-size="21.2" fill="#000">16</text>
<path d="M295.3,478.3h11.6" stroke="#000" stroke-width="1.2" fill="none"/>
<text transform="translate(310.50,484.40) scale(1.1321,1.0149)" font-size="21.2" fill="#000">14</text>
<path d="M363.1,478.3h11.6" stroke="#000" stroke-width="1.2" fill="none"/>
<text transform="translate(378.30,484.40) scale(1.1651,1.0110)" font-size="21.2" fill="#000">12</text>
<text transform="translate(185.50,512.80) scale(0.8483,1.0000)" font-size="21.7" fill="#000">NUV</text>
<text transform="translate(241.40,512.80) scale(0.8855,1.0000)" font-size="21.7" fill="#000">(AB</text>
<text transform="translate(286.70,512.80) scale(1.2177,1.0000)" font-size="21.7" fill="#000">mag)</text>
<g transform="translate(21.3,423.5) rotate(-90)">
<text transform="translate(0.00,0.00) scale(0.7123,1.0000)" font-size="22.5" fill="#000">Φ</text>
<text transform="translate(15.30,0.00) scale(0.8287,1.0000)" font-size="22.5" fill="#000">(</text>
<text transform="translate(23.30,0.00) scale(0.7141,1.0000)" font-size="22.5" fill="#000">M</text>
<text transform="translate(39.40,0.00) scale(0.8287,1.0000)" font-size="22.5" fill="#000">)</text>
<text transform="translate(59.90,0.00) scale(0.8421,1.0000)" font-size="22.5" fill="#000">(</text>
<text transform="translate(68.90,0.00) scale(0.7689,1.0000)" font-size="22.5" fill="#000">N</text>
<text transform="translate(83.20,6.10) scale(1.2252,1.0000)" font-size="11.5" fill="#000" font-weight="bold">gal</text>
<text transform="translate(115.80,0.00) scale(1.1342,1.0000)" font-size="22.5" fill="#000">1.0</text>
<text transform="translate(157.60,0.00) scale(1.1534,1.0000)" font-size="22.5" fill="#000">mag</text>
<path d="M205.2,-10.2H212.7" stroke="#000" stroke-width="1.0" fill="none"/>
<text transform="translate(215.50,-6.30) scale(0.6933,1.0000)" font-size="15" fill="#000">1</text>
<text transform="translate(223.50,0.00) scale(0.7753,1.0000)" font-size="22.5" fill="#000">)</text>
</g>
<path d="M229.3,293.6H270.2" stroke="#000000" stroke-width="2.1" fill="none"/>
<text transform="translate(281.00,297.30) scale(1.1443,1.0000)" font-size="14.3" fill="#000000" stroke="#000000" stroke-width="0.35">Virgo</text>
<text transform="translate(326.70,297.30) scale(0.9198,1.0000)" font-size="14.3" fill="#000000" stroke="#000000" stroke-width="0.35">(TW)</text>
<path d="M229.3,316.03000000000003H270.2" stroke="#00ffff" stroke-width="1.7" fill="none" stroke-dasharray="1.8 4.0 11.7 4.0"/>
<text transform="translate(281.00,319.73) scale(1.1443,1.0000)" font-size="14.3" fill="#00ffff" stroke="#00ffff" stroke-width="0.35">Virgo</text>
<text transform="translate(327.90,319.73) scale(1.0699,1.0000)" font-size="14.3" fill="#00ffff" stroke="#00ffff" stroke-width="0.35">12</text>
<text transform="translate(343.90,316.03) scale(0.9053,1.0000)" font-size="9.5" fill="#00ffff" stroke="#00ffff" stroke-width="0.35">o</text>
<text transform="translate(348.70,316.03) scale(1.0000,1.0000)" font-size="9.0" fill="#00ffff" stroke="#00ffff" stroke-width="0.35">2</text>
<text transform="translate(360.90,319.73) scale(0.7622,1.0000)" font-size="14.3" fill="#00ffff" stroke="#00ffff" stroke-width="0.35">M</text>
<text transform="translate(373.00,319.73) scale(1.0172,1.0000)" font-size="14.3" fill="#00ffff" stroke="#00ffff" stroke-width="0.35">≤</text>
<path d="M384.0,315.53H392.6" stroke="#00ffff" stroke-width="1.4" fill="none"/>
<text transform="translate(395.80,319.73) scale(1.0070,1.0000)" font-size="14.3" fill="#00ffff" stroke="#00ffff" stroke-width="0.35">10</text>
<path d="M229.3,338.46000000000004H270.2" stroke="#00ffff" stroke-width="1.9" fill="none" stroke-dasharray="2.0 4.3"/>
<text transform="translate(281.00,342.16) scale(1.1443,1.0000)" font-size="14.3" fill="#00ffff" stroke="#00ffff" stroke-width="0.35">Virgo</text>
<text transform="translate(327.90,342.16) scale(1.0699,1.0000)" font-size="14.3" fill="#00ffff" stroke="#00ffff" stroke-width="0.35">12</text>
<text transform="translate(343.90,338.46) scale(0.9053,1.0000)" font-size="9.5" fill="#00ffff" stroke="#00ffff" stroke-width="0.35">o</text>
<text transform="translate(348.70,338.46) scale(1.0000,1.0000)" font-size="9.0" fill="#00ffff" stroke="#00ffff" stroke-width="0.35">2</text>
<text transform="translate(360.90,342.16) scale(0.7622,1.0000)" font-size="14.3" fill="#00ffff" stroke="#00ffff" stroke-width="0.35">M</text>
<text transform="translate(373.00,342.16) scale(1.0172,1.0000)" font-size="14.3" fill="#00ffff" stroke="#00ffff" stroke-width="0.35">≤</text>
<path d="M384.0,337.96H392.6" stroke="#00ffff" stroke-width="1.4" fill="none"/>
<text transform="translate(395.80,342.16) scale(1.0070,1.0000)" font-size="14.3" fill="#00ffff" stroke="#00ffff" stroke-width="0.35">13</text>
<path d="M229.3,360.89H270.2" stroke="#ff0000" stroke-width="1.9" fill="none" stroke-dasharray="2.0 4.3"/>
<text transform="translate(281.20,364.59) scale(1.1482,1.0000)" font-size="14.3" fill="#ff0000" stroke="#ff0000" stroke-width="0.35">Coma</text>
<text transform="translate(329.80,364.59) scale(1.1049,1.0000)" font-size="14.3" fill="#ff0000" stroke="#ff0000" stroke-width="0.35">25</text>
<text transform="translate(354.50,364.59) scale(1.0113,1.0000)" font-size="14.3" fill="#ff0000" stroke="#ff0000" stroke-width="0.35">Mpc</text>
<text transform="translate(382.20,360.89) scale(1.0667,1.0000)" font-size="9.0" fill="#ff0000" stroke="#ff0000" stroke-width="0.35">2</text>
<path d="M229.3,383.32000000000005H270.2" stroke="#00ff00" stroke-width="1.6" fill="none" stroke-dasharray="26.5 9"/>
<text transform="translate(281.20,387.02) scale(1.0994,1.0000)" font-size="14.3" fill="#00ff00" stroke="#00ff00" stroke-width="0.35">A1367</text>
<path d="M229.3,405.75H270.2" stroke="#ffb400" stroke-width="1.6" fill="none" stroke-dasharray="20.1 2.2 1.7 2.19"/>
<text transform="translate(281.20,409.45) scale(1.2217,1.0000)" font-size="14.3" fill="#ffb400" stroke="#ffb400" stroke-width="0.35">Shapley</text>
<path d="M229.3,428.18H270.2" stroke="#0000ff" stroke-width="1.7" fill="none" stroke-dasharray="11.3 7.9"/>
<text transform="translate(281.20,431.88) scale(1.1944,1.0000)" font-size="14.3" fill="#0000ff" stroke="#0000ff" stroke-width="0.35">field</text>
</svg></body></html>
